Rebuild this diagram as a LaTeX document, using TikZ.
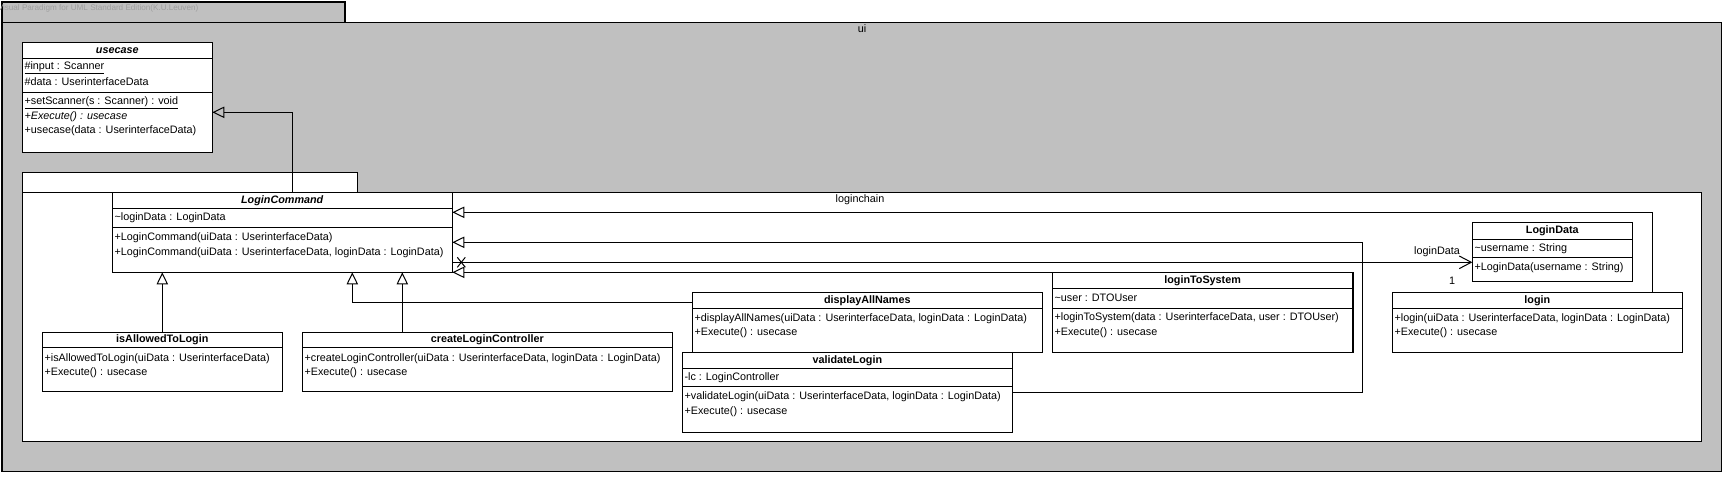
\documentclass[tikz,border=0pt]{standalone}
\usepackage{fontspec}
\setmainfont{Liberation Sans}
\usetikzlibrary{arrows.meta,fit,calc}
\definecolor{pkggray}{RGB}{192,192,192}
\definecolor{vpgray}{RGB}{158,158,158}
\newcommand\umlfont{\fontsize{8.1pt}{9.7pt}\selectfont}
\newcommand\umlbox[5]{\node[cls, fit={(#2,#3)(#4,#5)}] (#1) {};}
\newcommand\umlsep[2]{\draw[sepline] (#1.west |- 0,#2) -- (#1.east |- 0,#2);}
\begin{document}
\begin{tikzpicture}[x=0.75pt,y=-0.75pt,
  cls/.style={draw=black, fill=white, inner sep=0pt, outer sep=0pt, line width=0.8pt},
  sepline/.style={line width=0.75pt},
  pkg/.style={draw=black, inner sep=0pt, outer sep=0pt, line width=0.8pt},
  txt/.style={anchor=west, inner sep=0pt, font=\umlfont, text height=6pt, text depth=1.7pt},
  hdr/.style={anchor=center, inner sep=0pt, font=\umlfont\bfseries, text height=6pt, text depth=1.7pt},
  lbl/.style={anchor=center, inner sep=0pt, font=\umlfont, text height=6pt, text depth=1.7pt},
  conn/.style={line width=0.75pt},
  gen/.style={conn, -{Triangle[open, length=9pt, width=8.5pt]}},
  nav/.style={conn, -{Straight Barb[length=9pt, width=9.5pt]}},
]
\useasboundingbox (0,0) rectangle (1726,476);
\fill[white] (0,0) rectangle (1726,476);

% outer package "ui"
\node[pkg, fill=pkggray, fit={(2,2)(345,22.3)}] (uitab) {};
\node[pkg, fill=pkggray, fit={(2,22.3)(1721.7,471.7)}] (ui) {};
\begin{scope}
  \clip (0,2.5) rectangle (344.5,22);
  \node[anchor=west, inner sep=0pt, font=\fontsize{6.1pt}{7pt}\selectfont, text=vpgray] (vp) at (-2.5,8) {Visual Paradigm for UML Standard Edition(K.U.Leuven)};
\end{scope}
\node[lbl] (uilabel) at (862,30) {ui};

% usecase
\umlbox{usecase}{22.3}{42.3}{212.3}{152.3}
\umlsep{usecase}{58.3}
\umlsep{usecase}{92}
\node[hdr] (usecase-h) at (117.3,50.7) {\textit{usecase}};
\node[txt] (usecase-a1) at (24.3,66.3) {\underline{\#input : Scanner}};
\node[txt] (usecase-a2) at (24.3,82.5) {\#data : UserinterfaceData};
\node[txt] (usecase-m1) at (24.3,101.7) {\underline{+setScanner(s : Scanner) : void}};
\node[txt] (usecase-m2) at (24.3,117) {\textit{+Execute() : usecase}};
\node[txt] (usecase-m3) at (24.3,131) {+usecase(data : UserinterfaceData)};

% inner package
\node[pkg, fill=white, fit={(22.3,172.3)(357.7,192.5)}] (inntab) {};
\node[pkg, fill=white, fit={(22.3,192.5)(1701.7,441.7)}] (inn) {};

% LoginCommand
\umlbox{LC}{112.3}{192.7}{452.3}{272.3}
\umlsep{LC}{208.3}
\umlsep{LC}{227.3}
\node[hdr] (LC-h) at (282.3,200.5) {\textit{LoginCommand}};
\node[txt] (LC-a1) at (114.3,217.8) {\textasciitilde loginData : LoginData};
\node[txt] (LC-m1) at (114.3,237.3) {+LoginCommand(uiData : UserinterfaceData)};
\node[txt] (LC-m2) at (114.3,252.3) {+LoginCommand(uiData : UserinterfaceData, loginData : LoginData)};

% isAllowedToLogin
\umlbox{IAL}{42.3}{332.3}{282.3}{391.7}
\umlsep{IAL}{347.7}
\node[hdr] (IAL-h) at (162.3,340) {isAllowedToLogin};
\node[txt] (IAL-m1) at (44.3,358.2) {+isAllowedToLogin(uiData : UserinterfaceData)};
\node[txt] (IAL-m2) at (44.3,372.7) {+Execute() : usecase};

% createLoginController
\umlbox{CLC}{302.3}{332.3}{672.3}{391.7}
\umlsep{CLC}{347.7}
\node[hdr] (CLC-h) at (487.3,340) {createLoginController};
\node[txt] (CLC-m1) at (304.3,358.2) {+createLoginController(uiData : UserinterfaceData, loginData : LoginData)};
\node[txt] (CLC-m2) at (304.3,372.7) {+Execute() : usecase};

% displayAllNames
\umlbox{DAN}{692.3}{292.3}{1042.3}{352.3}
\umlsep{DAN}{308.3}
\node[hdr] (DAN-h) at (867.3,300.3) {displayAllNames};
\node[txt] (DAN-m1) at (694.3,318.3) {+displayAllNames(uiData : UserinterfaceData, loginData : LoginData)};
\node[txt] (DAN-m2) at (694.3,333) {+Execute() : usecase};

% validateLogin
\umlbox{VL}{682.3}{352.3}{1012.3}{432.3}
\umlsep{VL}{368.3}
\umlsep{VL}{386.7}
\node[hdr] (VL-h) at (847.3,360.3) {validateLogin};
\node[txt] (VL-a1) at (684.3,377.5) {-lc : LoginController};
\node[txt] (VL-m1) at (684.3,397) {+validateLogin(uiData : UserinterfaceData, loginData : LoginData)};
\node[txt] (VL-m2) at (684.3,411.7) {+Execute() : usecase};

% loginToSystem
\umlbox{LTS}{1052.3}{272.3}{1353}{352.3}
\umlsep{LTS}{288.3}
\umlsep{LTS}{308.3}
\node[hdr] (LTS-h) at (1202.6,280.3) {loginToSystem};
\node[txt] (LTS-a1) at (1054.3,298.3) {\textasciitilde user : DTOUser};
\node[txt] (LTS-m1) at (1054.3,318) {+loginToSystem(data : UserinterfaceData, user : DTOUser)};
\node[txt] (LTS-m2) at (1054.3,332.7) {+Execute() : usecase};

% LoginData
\umlbox{LD}{1472.3}{222.7}{1632.3}{281.7}
\umlsep{LD}{239}
\umlsep{LD}{257.3}
\node[hdr] (LD-h) at (1552.3,230.8) {LoginData};
\node[txt] (LD-a1) at (1474.3,248.5) {\textasciitilde username : String};
\node[txt] (LD-m1) at (1474.3,268) {+LoginData(username : String)};

% login
\umlbox{LG}{1392.3}{292.3}{1682.3}{352.3}
\umlsep{LG}{308.3}
\node[hdr] (LG-h) at (1537.3,300.3) {login};
\node[txt] (LG-m1) at (1394.3,318.3) {+login(uiData : UserinterfaceData, loginData : LoginData)};
\node[txt] (LG-m2) at (1394.3,333) {+Execute() : usecase};

% connectors
\draw[gen] (LC.north -| 292.3,0) |- (usecase.east |- 0,112.3);
\draw[gen] (IAL.north -| 162.3,0) -- (LC.south -| 162.3,0);
\draw[gen] (CLC.north -| 402.3,0) -- (LC.south -| 402.3,0);
\draw[gen] (DAN.west |- 0,302.3) -| (LC.south -| 352.3,0);
\draw[gen] (LG.north -| 1652.3,0) |- (LC.east |- 0,212.3);
\node[lbl] (lchain) at (860,200) {loginchain};
\coordinate (vbend) at (1362,242.3);
\draw[gen] (VL.east |- 0,392.3) -| (vbend) -- (LC.east |- 0,242.3);
\draw[gen] (LTS.north west) -- (LC.south east |- LTS.north west);
\coordinate (xc) at ($(LC.east |- 0,262.3)+(9,0)$);
\draw[nav] (LC.east |- 0,262.3) -- (LD.west |- 0,262.3);
\draw[conn] ($(xc)+(-4,-5)$) -- ($(xc)+(4,5)$);
\draw[conn] ($(xc)+(-4,5)$) -- ($(xc)+(4,-5)$);
\node[lbl] (ldrole) at (1437,252) {loginData};
\node[lbl] (ldmult) at (1452,282) {1};
\end{tikzpicture}
\end{document}
